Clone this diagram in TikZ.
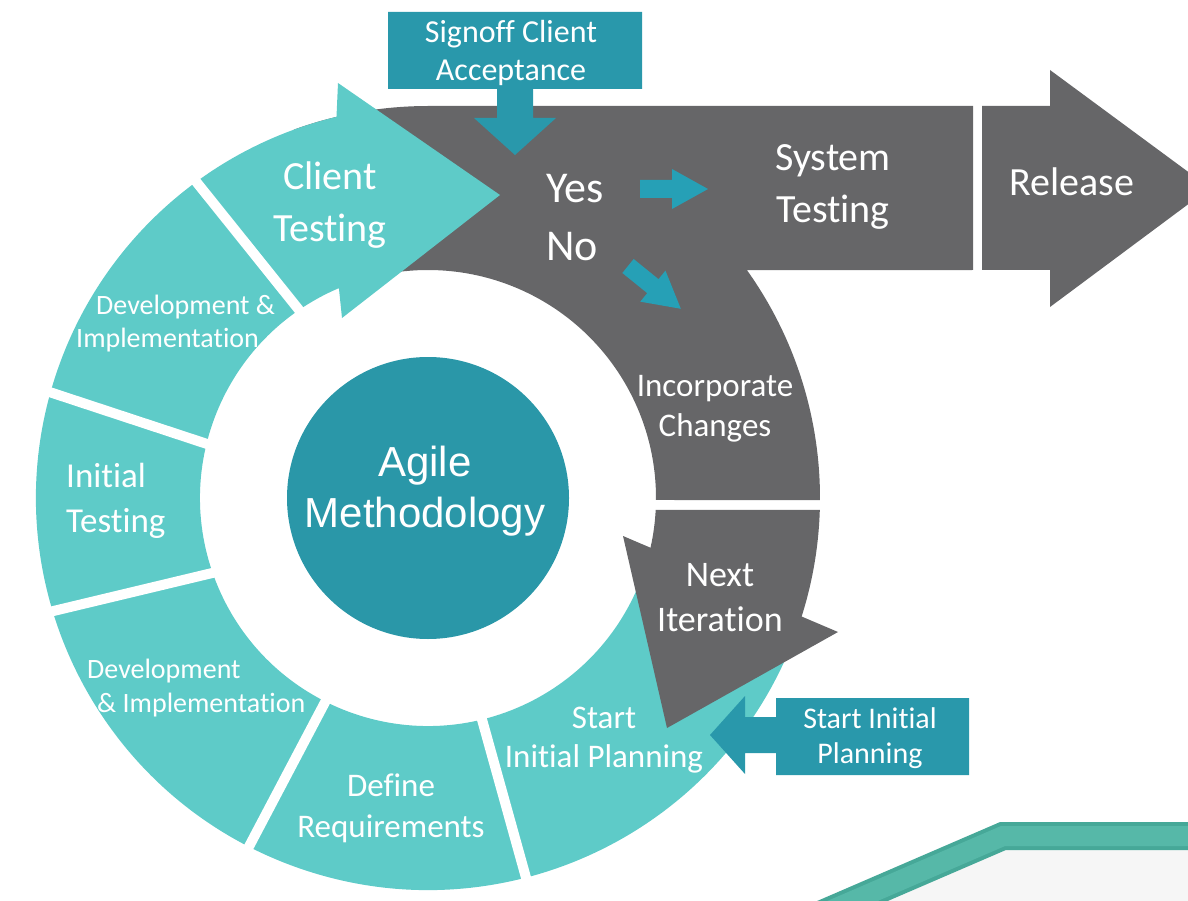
\documentclass[tikz,border=0pt]{standalone}
\usepackage{fontspec}
\setmainfont{Carlito}[Ligatures=NoCommon]
\newfontfamily\hubfont{Liberation Sans}
\usetikzlibrary{calc}

\definecolor{ringteal}{RGB}{94,203,200}
\definecolor{hubteal}{RGB}{42,151,168}
\definecolor{boxteal}{RGB}{41,152,171}
\definecolor{tipteal}{RGB}{38,160,182}
\definecolor{slate}{RGB}{102,102,104}
\definecolor{bandgreen}{RGB}{70,168,152}
\definecolor{bandlight}{RGB}{86,184,168}
\definecolor{floorgray}{RGB}{246,246,246}

\begin{document}
\begin{tikzpicture}[
 x=1pt,
 y=-1pt,
 txt/.style={
  text=white,
  inner sep=0,
  align=center,
 },
 gap/.style={draw=white, line width=10pt},
 pics/nudge/.style={code={
  \fill[tipteal] (0,-9) -- (32,-9) -- (32,-20) -- (68,0) -- (32,20) -- (32,9) -- (0,9) -- cycle;
 }}
]

\useasboundingbox (0,0) rectangle (1188,901);
\clip (0,0) rectangle (1188,901);
\coordinate (O) at (428,498);

\fill[floorgray] (820,915) -- (1003,836) -- (1200,836) -- (1200,915) -- cycle;
\draw[bandgreen, line width=28pt] (820,915) -- (1003,836) -- (1200,836);
\draw[bandlight, line width=20pt] (820,915) -- (1003,836) -- (1200,836);

\fill[slate] ($(O)+(250:392)$) arc[start angle=250, end angle=270, radius=392]
 -- (973,106) -- (973,270) -- ($(O)+(-35.56:392)$)
 arc[start angle=-35.56, end angle=0.3, radius=392]
 -- ($(O)+(0.5:228)$) arc[start angle=0.5, end angle=-110, radius=228] -- cycle;
\fill[slate] (982,106) -- (1050,106) -- (1050,70) -- (1210,188) -- (1050,307) -- (1050,270) -- (982,270) -- cycle;

\fill[ringteal] ($(O)+(20:392)$) arc[start angle=20, end angle=256.5, radius=392]
 -- (338,83) -- (500,195) -- (342,318)
 -- ($(O)+(247:228)$) arc[start angle=247, end angle=20, radius=228] -- cycle;

\foreach \ao/\ai in {233.7/235.8, 195.7/193.5, 163.3/160.5, 117.2/116.7, 75.5/76.4}
 \draw[gap] ($(O)+(\ao:402)$) -- ($(O)+(\ai:216)$);

\fill[slate] ($(O)+(1.75:392)$) arc[start angle=1.75, end angle=17.6, radius=392]
 -- (838,632) -- (667,728) -- (623,536)
 -- ($(O)+(12.6:228)$) arc[start angle=12.6, end angle=3, radius=228] -- cycle;

\fill[hubteal] (O) circle[radius=141];

\fill[boxteal] (388,12) -- (642,12) -- (642,89) -- (533,89) -- (533,118) -- (556,118) -- (515,155)
 -- (474,118) -- (497,118) -- (497,89) -- (388,89) -- cycle;
\fill[boxteal] (969,698) -- (969,775) -- (776,775) -- (776,753) -- (745,753) -- (745,774) -- (710,735)
 -- (745,696) -- (745,717) -- (776,717) -- (776,698) -- cycle;

\pic at (640,189) {nudge};
\pic[rotate=-39] at (628,266) {nudge};

\node at (511,52.7) [txt, font=\fontsize{32}{38}\selectfont] (signoff) {Signoff Client\\Acceptance};
\node at (330,205.5) [txt, font=\fontsize{40}{52}\selectfont] (client) {Client\\Testing};
\node at (546,218) [txt, anchor=west, align=left, font=\fontsize{44}{58}\selectfont] (verdict) {Yes\\No};
\node at (833,186.7) [txt, font=\fontsize{40}{52}\selectfont] (system) {System\\Testing};
\node at (1072,196) [txt, anchor=base, font=\fontsize{40}{48}\selectfont] (release) {Release};
\node at (715,409) [txt, font=\fontsize{33}{40}\selectfont] (changes) {Incorporate\\Changes};
\node at (720,598) [txt, font=\fontsize{36}{45}\selectfont] (next) {Next\\Iteration};
\node at (604,740) [txt, font=\fontsize{33}{39}\selectfont] (plan) {Start\\Initial Planning};
\node at (870,737.7) [txt, font=\fontsize{30}{35}\selectfont] (plannote) {Start Initial\\Planning};
\node at (425,491.5) [txt, font=\hubfont\fontsize{42}{51}\selectfont] (hub) {Agile\\Methodology};
\node at (66,500.5) [txt, anchor=west, align=left, font=\fontsize{35}{45}\selectfont] (inittest) {Initial\\Testing};
\node at (87,688) [txt, anchor=west, align=left, font=\fontsize{28}{34}\selectfont] (devlow) {Development\\\hspace*{10pt}\& Implementation};
\node at (76,324) [txt, anchor=west, align=left, font=\fontsize{28}{33}\selectfont] (devup) {\hspace*{20pt}Development \&\\Implementation};
\node at (391,808) [txt, font=\fontsize{33}{41}\selectfont] (define) {Define\\Requirements};

\end{tikzpicture}
\end{document}
